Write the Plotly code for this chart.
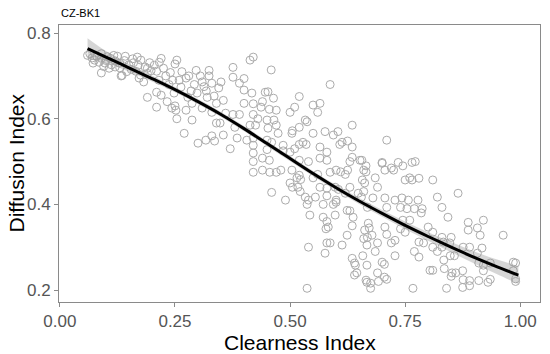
import numpy as np
import plotly.graph_objects as go

# ---- data: (Clearness Index, Diffusion Index) ----
region_a = [(0.060,0.748),(0.065,0.752),(0.070,0.742),(0.075,0.737),(0.080,0.746),(0.085,0.732),(0.090,0.741),
            (0.095,0.722),(0.100,0.736),(0.090,0.752),(0.072,0.730),(0.090,0.707),(0.107,0.718),(0.110,0.741),
            (0.120,0.735),(0.125,0.746),(0.130,0.730),(0.140,0.736),(0.120,0.721),(0.130,0.719),(0.145,0.710),
            (0.112,0.726),(0.142,0.746),(0.135,0.701),(0.150,0.726),(0.133,0.700),(0.103,0.745),(0.117,0.748),
            (0.098,0.730)]
region_b = [(0.160,0.731),(0.170,0.725),(0.176,0.737),(0.165,0.711),(0.175,0.702),(0.185,0.721),(0.190,0.706),
            (0.195,0.731),(0.172,0.695),(0.155,0.715),(0.190,0.650),(0.182,0.686),(0.190,0.718),(0.158,0.740),
            (0.168,0.744),(0.198,0.712)]
region_c = [(0.216,0.732),(0.220,0.741),(0.210,0.711),(0.210,0.662),(0.220,0.655),(0.233,0.640),(0.210,0.627),
            (0.237,0.680),(0.230,0.700),(0.248,0.660),(0.243,0.625),(0.205,0.725),(0.225,0.718),(0.240,0.708),
            (0.215,0.690),(0.245,0.690)]
region_d = [(0.254,0.737),(0.250,0.728),(0.259,0.690),(0.263,0.674),(0.274,0.695),(0.250,0.630),(0.252,0.620),
            (0.254,0.600),(0.270,0.566),(0.287,0.636),(0.287,0.597),(0.300,0.543),(0.280,0.700),(0.296,0.713),
            (0.285,0.665),(0.298,0.660),(0.274,0.620),(0.265,0.710),(0.292,0.680),(0.278,0.650)]
region_e = [(0.324,0.713),(0.324,0.700),(0.309,0.686),(0.313,0.675),(0.330,0.683),(0.320,0.650),(0.335,0.653),
            (0.309,0.625),(0.330,0.615),(0.340,0.590),(0.317,0.550),(0.330,0.560),(0.336,0.548),(0.345,0.672),
            (0.305,0.700),(0.340,0.636),(0.318,0.665)]
region_f = [(0.420,0.744),(0.413,0.737),(0.376,0.720),(0.459,0.714),(0.376,0.697),(0.400,0.694),(0.390,0.683),
            (0.350,0.686),(0.400,0.667),(0.417,0.660),(0.446,0.662),(0.452,0.663),(0.464,0.648),(0.587,0.680),
            (0.355,0.643),(0.400,0.636),(0.420,0.635),(0.440,0.640),(0.520,0.652),(0.510,0.627),(0.550,0.632),
            (0.565,0.636),(0.560,0.615),(0.470,0.620),(0.533,0.597),(0.537,0.593),(0.635,0.585),(0.360,0.613),
            (0.376,0.610),(0.390,0.610),(0.430,0.600),(0.450,0.597),(0.465,0.597),(0.348,0.590),(0.380,0.580),
            (0.413,0.585),(0.425,0.585),(0.452,0.578),(0.474,0.566),(0.504,0.566),(0.505,0.572),(0.550,0.566),
            (0.576,0.570),(0.594,0.562),(0.604,0.570),(0.613,0.545),(0.608,0.540),(0.355,0.562),(0.385,0.555),
            (0.406,0.550),(0.420,0.555),(0.450,0.550),(0.460,0.545),(0.528,0.545),(0.520,0.540),(0.535,0.540),
            (0.370,0.530),(0.420,0.538),(0.420,0.520),(0.450,0.528),(0.485,0.538),(0.485,0.525),(0.500,0.522),
            (0.510,0.530),(0.565,0.534),(0.580,0.522),(0.565,0.508),(0.635,0.534),(0.635,0.510),(0.652,0.503),
            (0.440,0.508),(0.455,0.503),(0.420,0.500),(0.520,0.503),(0.540,0.500),(0.580,0.503),(0.630,0.500),
            (0.437,0.627),(0.455,0.622),(0.420,0.610),(0.500,0.615),(0.520,0.580),(0.470,0.585),(0.625,0.548)]
region_g = [(0.710,0.550),(0.700,0.498),(0.735,0.498),(0.765,0.498),(0.772,0.500)]
region_h = [(0.420,0.475),(0.440,0.480),(0.456,0.475),(0.470,0.475),(0.480,0.480),(0.504,0.480),(0.520,0.468),
            (0.515,0.462),(0.523,0.458),(0.460,0.428),(0.490,0.410),(0.500,0.450),(0.505,0.440),(0.517,0.440),
            (0.522,0.430),(0.533,0.417),(0.540,0.410),(0.537,0.400),(0.555,0.417),(0.543,0.375),(0.572,0.400),
            (0.594,0.400),(0.600,0.405),(0.598,0.375),(0.572,0.370),(0.580,0.360),(0.583,0.347),(0.578,0.343),
            (0.550,0.462),(0.560,0.470),(0.587,0.475),(0.600,0.480),(0.610,0.476),(0.620,0.470),(0.625,0.480),
            (0.660,0.480),(0.665,0.476),(0.685,0.462),(0.565,0.440),(0.580,0.438),(0.598,0.440),(0.605,0.435),
            (0.620,0.426),(0.630,0.440),(0.648,0.426),(0.660,0.430),(0.680,0.415),(0.690,0.440),(0.580,0.420),
            (0.600,0.410),(0.624,0.386),(0.630,0.385),(0.637,0.370),(0.635,0.350),(0.624,0.328),(0.670,0.356),
            (0.672,0.345),(0.678,0.328),(0.660,0.320),(0.667,0.305),(0.690,0.310),(0.685,0.290),(0.540,0.300),
            (0.580,0.310),(0.587,0.310),(0.613,0.305),(0.576,0.286),(0.635,0.274),(0.640,0.263),(0.642,0.258),
            (0.645,0.240),(0.640,0.235),(0.667,0.258),(0.667,0.218),(0.675,0.216),(0.690,0.240),(0.692,0.220),
            (0.675,0.204),(0.537,0.204)]
region_i = [(0.706,0.480),(0.720,0.485),(0.725,0.480),(0.745,0.490),(0.750,0.457),(0.765,0.457),(0.760,0.462),
            (0.780,0.461),(0.810,0.457),(0.706,0.415),(0.728,0.410),(0.743,0.415),(0.757,0.410),(0.778,0.410),
            (0.820,0.417),(0.865,0.426),(0.710,0.393),(0.740,0.393),(0.754,0.390),(0.770,0.390),(0.787,0.390),
            (0.830,0.393),(0.785,0.380),(0.745,0.363),(0.760,0.363),(0.843,0.370),(0.706,0.347),(0.740,0.343),
            (0.750,0.335),(0.800,0.347),(0.810,0.335),(0.887,0.358),(0.920,0.363),(0.907,0.345),(0.887,0.340),
            (0.913,0.328),(0.963,0.328),(0.710,0.330),(0.728,0.316),(0.720,0.310),(0.780,0.312),(0.790,0.310),
            (0.830,0.323),(0.833,0.312),(0.850,0.323),(0.847,0.310),(0.876,0.300),(0.890,0.300),(0.917,0.298),
            (0.728,0.280),(0.770,0.290),(0.780,0.277),(0.810,0.300),(0.820,0.290),(0.830,0.300),(0.848,0.280),
            (0.834,0.270),(0.857,0.280),(0.907,0.286),(0.700,0.265),(0.705,0.260),(0.804,0.246),(0.810,0.246),
            (0.835,0.250),(0.852,0.240),(0.860,0.240),(0.875,0.245),(0.910,0.263),(0.920,0.258),(0.920,0.245),
            (0.935,0.263),(0.985,0.265),(0.990,0.263),(0.985,0.245),(0.705,0.230),(0.710,0.225),(0.850,0.232),
            (0.876,0.224),(0.890,0.222),(0.910,0.222),(0.935,0.225),(0.990,0.226),(0.990,0.220),(0.930,0.218),
            (0.767,0.204),(0.840,0.204),(0.875,0.206),(0.890,0.210)]
region_j = [(0.656,0.503),(0.665,0.490),(0.700,0.496),(0.657,0.457),(0.662,0.450),(0.655,0.417),(0.668,0.393),
            (0.662,0.340),(0.668,0.323),(0.658,0.280),(0.665,0.223)]

# ---- smoothed trend and its confidence half-width ----
smooth_x = [0.060, 0.10, 0.15, 0.20, 0.25, 0.30, 0.35, 0.40, 0.45, 0.50,
            0.55, 0.60, 0.65, 0.70, 0.75, 0.80, 0.85, 0.90, 0.95, 0.996]
smooth_y = [0.764, 0.744, 0.719, 0.694, 0.668, 0.640, 0.610, 0.577, 0.542, 0.507,
            0.472, 0.439, 0.408, 0.379, 0.351, 0.325, 0.300, 0.276, 0.254, 0.235]
smooth_halfwidth = [0.024, 0.014, 0.009, 0.007, 0.006, 0.006, 0.006, 0.006, 0.006, 0.006,
                    0.006, 0.006, 0.007, 0.008, 0.009, 0.010, 0.012, 0.014, 0.017, 0.021]

x_ticks = [0.00, 0.25, 0.50, 0.75, 1.00]
x_tick_labels = ["0.00", "0.25", "0.50", "0.75", "1.00"]
y_ticks = [0.2, 0.4, 0.6, 0.8]
y_tick_labels = ["0.2", "0.4", "0.6", "0.8"]

pts = np.array(region_a + region_b + region_c + region_d + region_e + region_f +
               region_g + region_h + region_i + region_j)
x = pts[:, 0]
y = pts[:, 1]

sx = np.array(smooth_x)
sy = np.array(smooth_y)
hw = np.array(smooth_halfwidth)
upper = sy + hw
lower = sy - hw

FONT = "Liberation Sans, Arial, sans-serif"

fig = go.Figure()
fig.add_trace(go.Scatter(x=x, y=y, mode="markers",
                         marker=dict(symbol="circle-open", size=8, color="#ababab",
                                     line=dict(width=1, color="#ababab")),
                         showlegend=False, hoverinfo="skip"))
fig.add_trace(go.Scatter(x=sx, y=upper, mode="lines", line=dict(width=0, shape="spline"),
                         showlegend=False, hoverinfo="skip"))
fig.add_trace(go.Scatter(x=sx, y=lower, mode="lines", line=dict(width=0, shape="spline"),
                         fill="tonexty", fillcolor="rgba(153,153,153,0.4)",
                         showlegend=False, hoverinfo="skip"))
fig.add_trace(go.Scatter(x=sx, y=sy, mode="lines", line=dict(color="black", width=3, shape="spline"),
                         showlegend=False, hoverinfo="skip"))

axis_common = dict(showgrid=False, zeroline=False, showline=True, mirror=True,
                   linecolor="#8a8a8a", linewidth=1, ticks="outside", ticklen=4,
                   tickcolor="#8a8a8a", tickwidth=1,
                   tickfont=dict(family=FONT, size=17, color="#555555"))

fig.update_layout(
    width=550, height=354,
    margin=dict(l=59, r=10, t=25, b=52),
    paper_bgcolor="white", plot_bgcolor="white",
    xaxis=dict(range=[-0.002, 1.043], tickvals=x_ticks, ticktext=x_tick_labels, **axis_common),
    yaxis=dict(range=[0.172, 0.819], tickvals=y_ticks, ticktext=y_tick_labels, **axis_common),
    annotations=[
        dict(text="CZ-BK1", xref="paper", yref="paper", x=0, y=1,
             xanchor="left", yanchor="bottom", yshift=4, showarrow=False,
             font=dict(family=FONT, size=11, color="black")),
        dict(text="Clearness Index", xref="paper", yref="paper", x=0.5, y=0,
             xanchor="center", yanchor="middle", yshift=-40, showarrow=False,
             font=dict(family=FONT, size=21, color="black")),
        dict(text="Diffusion Index", xref="paper", yref="paper", x=0, y=0.5,
             xanchor="center", yanchor="middle", xshift=-43, textangle=-90, showarrow=False,
             font=dict(family=FONT, size=21, color="black")),
    ],
)

fig.write_html("out.html", config={"displayModeBar": False},
               post_script="document.body.style.margin='0';document.body.style.overflow='hidden';")
